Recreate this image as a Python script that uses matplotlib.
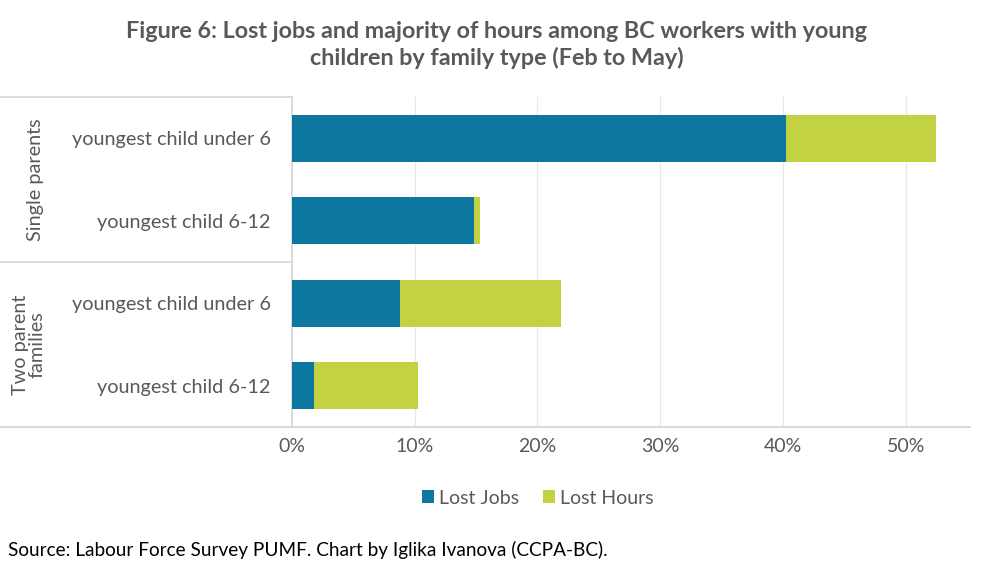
import numpy as np
import matplotlib
matplotlib.use('Agg')
import matplotlib.pyplot as plt
from matplotlib.lines import Line2D
from matplotlib.ticker import PercentFormatter

plt.rcParams['font.family'] = ['Lato', 'DejaVu Sans']

# --- Daten ---
categories = ['youngest child under 6', 'youngest child 6-12',
              'youngest child under 6', 'youngest child 6-12']
groups = ['Single parents', 'Two parent\nfamilies']
lost_jobs = [40.2, 14.85, 8.85, 1.85]
lost_hours = [12.2, 0.5, 13.05, 8.45]
x_ticks = [0, 10, 20, 30, 40, 50]

BLUE = '#0E77A0'
GREEN = '#C3D242'
GREY_TXT = '#595959'
LINE = '#D9D9D9'

fig = plt.figure(figsize=(10, 5.64), dpi=100)
ax = fig.add_axes([0.2917, 0.2429, 0.6783, 0.5851])

y = np.arange(len(categories))
ax.barh(y, lost_jobs, height=0.57, color=BLUE, label='Lost Jobs', zorder=3)
ax.barh(y, lost_hours, left=lost_jobs, height=0.57, color=GREEN, label='Lost Hours', zorder=3)

ax.set_ylim(len(categories) - 0.5, -0.5)
ax.set_xlim(0, 55.2)
ax.set_yticks(y)
ax.set_yticklabels(categories, fontsize=14.3, color=GREY_TXT)
ax.set_xticks(x_ticks)
ax.xaxis.set_major_formatter(PercentFormatter(decimals=0))
ax.tick_params(axis='x', length=0, pad=8, labelsize=14, labelcolor=GREY_TXT)
ax.tick_params(axis='y', length=0, pad=15)
ax.grid(axis='x', color='#E8E8E8', lw=0.9, zorder=0)

for s in ['top', 'right', 'bottom']:
    ax.spines[s].set_visible(False)
ax.spines['left'].set_color(LINE)
ax.spines['left'].set_linewidth(1.3)

# Tabellenlinien links
ax_left = 0.2917
top = 1 - 97 / 564
mid = 1 - 262 / 564
bot = 1 - 427 / 564
fig.add_artist(Line2D([0, ax_left], [top, top], color=LINE, lw=1.3))
fig.add_artist(Line2D([0, ax_left], [mid, mid], color=LINE, lw=1.3))
fig.add_artist(Line2D([0, 0.97], [bot, bot], color=LINE, lw=1.5))

# Gruppenbeschriftungen
fig.text(0.036, 1 - 180 / 564, groups[0], rotation=90, ha='center', va='center',
         fontsize=14.3, color=GREY_TXT)
fig.text(0.029, 1 - 345 / 564, groups[1], rotation=90, ha='center', va='center',
         fontsize=14.3, color=GREY_TXT, linespacing=0.95)

fig.text(0.497, 1 - 45 / 564,
         'Figure 6: Lost jobs and majority of hours among BC workers with young\n'
         'children by family type (Feb to May)',
         ha='center', va='center', fontsize=16.8, fontweight='bold', color=GREY_TXT,
         linespacing=1.3)

ax.legend(loc='center', bbox_to_anchor=(538 / 1000, 1 - 498 / 564),
          bbox_transform=fig.transFigure, ncol=2, frameon=False, fontsize=14,
          labelcolor=GREY_TXT, handlelength=0.6, handleheight=0.6,
          handletextpad=0.3, columnspacing=1.2)

fig.text(0.008, 1 - 550 / 564,
         'Source: Labour Force Survey PUMF. Chart by Iglika Ivanova (CCPA-BC).',
         ha='left', va='center', fontsize=13.7, color='black')

plt.savefig('out.png', dpi=100)
